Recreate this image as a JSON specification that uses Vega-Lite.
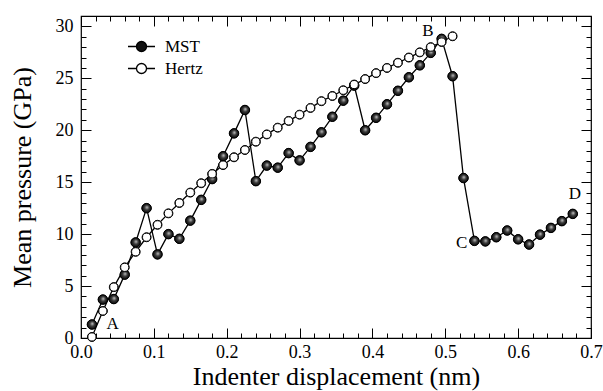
{
  "$schema": "https://vega.github.io/schema/vega-lite/v6.json",
  "width": 510,
  "height": 322,
  "autosize": {"type": "none"},
  "padding": {"left": 81, "top": 16, "right": 12, "bottom": 53},
  "background": "white",
  "config": {
    "view": {"stroke": "black", "strokeWidth": 1.2},
    "font": "Liberation Serif",
    "axis": {
      "domain": false,
      "grid": false,
      "tickColor": "black",
      "tickWidth": 1,
      "labelColor": "black",
      "titleColor": "black",
      "labelFont": "Liberation Serif",
      "titleFont": "Liberation Serif",
      "labelFontSize": 18,
      "titleFontSize": 26,
      "titleFontWeight": "normal",
      "labelFlush": false,
      "labelOverlap": false
    },
    "legend": {
      "labelFont": "Liberation Serif",
      "labelFontSize": 17,
      "labelColor": "black"
    }
  },
  "datasets": {
    "curves": [
      {"series": "MST", "x": 0.015, "y": 1.3},
      {"series": "MST", "x": 0.030, "y": 3.7},
      {"series": "MST", "x": 0.045, "y": 3.75},
      {"series": "MST", "x": 0.060, "y": 6.1},
      {"series": "MST", "x": 0.075, "y": 9.2},
      {"series": "MST", "x": 0.090, "y": 12.5},
      {"series": "MST", "x": 0.105, "y": 8.05},
      {"series": "MST", "x": 0.120, "y": 10.0},
      {"series": "MST", "x": 0.135, "y": 9.55},
      {"series": "MST", "x": 0.150, "y": 11.3},
      {"series": "MST", "x": 0.165, "y": 13.3},
      {"series": "MST", "x": 0.180, "y": 15.3},
      {"series": "MST", "x": 0.195, "y": 17.5},
      {"series": "MST", "x": 0.210, "y": 19.7},
      {"series": "MST", "x": 0.225, "y": 21.95},
      {"series": "MST", "x": 0.240, "y": 15.1},
      {"series": "MST", "x": 0.255, "y": 16.6},
      {"series": "MST", "x": 0.270, "y": 16.4},
      {"series": "MST", "x": 0.285, "y": 17.8},
      {"series": "MST", "x": 0.300, "y": 17.1},
      {"series": "MST", "x": 0.315, "y": 18.4},
      {"series": "MST", "x": 0.330, "y": 19.8},
      {"series": "MST", "x": 0.345, "y": 21.3},
      {"series": "MST", "x": 0.360, "y": 22.85},
      {"series": "MST", "x": 0.375, "y": 24.3},
      {"series": "MST", "x": 0.390, "y": 20.0},
      {"series": "MST", "x": 0.405, "y": 21.2},
      {"series": "MST", "x": 0.420, "y": 22.5},
      {"series": "MST", "x": 0.435, "y": 23.8},
      {"series": "MST", "x": 0.450, "y": 25.1},
      {"series": "MST", "x": 0.465, "y": 26.25},
      {"series": "MST", "x": 0.480, "y": 27.45},
      {"series": "MST", "x": 0.495, "y": 28.8},
      {"series": "MST", "x": 0.510, "y": 25.2},
      {"series": "MST", "x": 0.525, "y": 15.4},
      {"series": "MST", "x": 0.540, "y": 9.35},
      {"series": "MST", "x": 0.555, "y": 9.3},
      {"series": "MST", "x": 0.570, "y": 9.7},
      {"series": "MST", "x": 0.585, "y": 10.35},
      {"series": "MST", "x": 0.600, "y": 9.5},
      {"series": "MST", "x": 0.615, "y": 9.0},
      {"series": "MST", "x": 0.630, "y": 9.95},
      {"series": "MST", "x": 0.645, "y": 10.6},
      {"series": "MST", "x": 0.660, "y": 11.25},
      {"series": "MST", "x": 0.675, "y": 11.95},
      {"series": "Hertz", "x": 0.015, "y": 0.1},
      {"series": "Hertz", "x": 0.030, "y": 2.6},
      {"series": "Hertz", "x": 0.045, "y": 4.9},
      {"series": "Hertz", "x": 0.060, "y": 6.8},
      {"series": "Hertz", "x": 0.075, "y": 8.3},
      {"series": "Hertz", "x": 0.090, "y": 9.7},
      {"series": "Hertz", "x": 0.105, "y": 10.9},
      {"series": "Hertz", "x": 0.120, "y": 12.0},
      {"series": "Hertz", "x": 0.135, "y": 13.0},
      {"series": "Hertz", "x": 0.150, "y": 14.0},
      {"series": "Hertz", "x": 0.165, "y": 14.9},
      {"series": "Hertz", "x": 0.180, "y": 15.8},
      {"series": "Hertz", "x": 0.195, "y": 16.65},
      {"series": "Hertz", "x": 0.210, "y": 17.4},
      {"series": "Hertz", "x": 0.225, "y": 18.1},
      {"series": "Hertz", "x": 0.240, "y": 18.9},
      {"series": "Hertz", "x": 0.255, "y": 19.6},
      {"series": "Hertz", "x": 0.270, "y": 20.25},
      {"series": "Hertz", "x": 0.285, "y": 20.9},
      {"series": "Hertz", "x": 0.300, "y": 21.5},
      {"series": "Hertz", "x": 0.315, "y": 22.15},
      {"series": "Hertz", "x": 0.330, "y": 22.8},
      {"series": "Hertz", "x": 0.345, "y": 23.3},
      {"series": "Hertz", "x": 0.360, "y": 23.85},
      {"series": "Hertz", "x": 0.375, "y": 24.4},
      {"series": "Hertz", "x": 0.390, "y": 24.93},
      {"series": "Hertz", "x": 0.405, "y": 25.5},
      {"series": "Hertz", "x": 0.420, "y": 26.0},
      {"series": "Hertz", "x": 0.435, "y": 26.5},
      {"series": "Hertz", "x": 0.450, "y": 27.0},
      {"series": "Hertz", "x": 0.465, "y": 27.5},
      {"series": "Hertz", "x": 0.480, "y": 28.0},
      {"series": "Hertz", "x": 0.495, "y": 28.5},
      {"series": "Hertz", "x": 0.510, "y": 29.05}
    ],
    "labels": [
      {"label": "A", "x": 0.0435, "y": 1.3},
      {"label": "B", "x": 0.476, "y": 29.6},
      {"label": "C", "x": 0.5225, "y": 9.1},
      {"label": "D", "x": 0.678, "y": 13.9}
    ]
  },
  "resolve": {"axis": {"x": "independent", "y": "independent"}},
  "layer": [
    {
      "data": {"name": "curves"},
      "mark": {"type": "line", "color": "black", "strokeWidth": 1.3},
      "encoding": {
        "x": {
          "field": "x", "type": "quantitative",
          "scale": {"domain": [0, 0.7], "nice": false, "zero": false},
          "axis": {
            "orient": "bottom",
            "title": "Indenter displacement (nm)",
            "values": [0,0.02,0.04,0.06,0.08,0.1,0.12,0.14,0.16,0.18,0.2,0.22,0.24,0.26,0.28,0.3,0.32,0.34,0.36,0.38,0.4,0.42,0.44,0.46,0.48,0.5,0.52,0.54,0.56,0.58,0.6,0.62,0.64,0.66,0.68,0.7],
            "labelExpr": "abs(datum.value*10 - round(datum.value*10)) < 0.001 ? format(datum.value, '.1f') : ''",
            "tickSize": {"condition": {"test": "abs(datum.value*10 - round(datum.value*10)) < 0.001", "value": -10}, "value": -5},
            "labelPadding": 15,
            "titlePadding": -3
          }
        },
        "y": {
          "field": "y", "type": "quantitative",
          "scale": {"domain": [0, 31], "nice": false},
          "axis": {
            "orient": "left",
            "title": "Mean pressure (GPa)",
            "values": [0,1,2,3,4,5,6,7,8,9,10,11,12,13,14,15,16,17,18,19,20,21,22,23,24,25,26,27,28,29,30],
            "labelExpr": "datum.value % 5 === 0 ? format(datum.value, 'd') : ''",
            "tickSize": {"condition": {"test": "datum.value % 5 === 0", "value": -10}, "value": -5},
            "labelPadding": 18,
            "titlePadding": 20
          }
        },
        "detail": {"field": "series"}
      }
    },
    {
      "data": {"name": "curves"},
      "mark": {"type": "point", "filled": true, "stroke": "black", "strokeWidth": 1, "opacity": 1, "size": 80},
      "encoding": {
        "x": {
          "field": "x", "type": "quantitative",
          "axis": {
            "orient": "top",
            "title": null,
            "labels": false,
            "values": [0,0.02,0.04,0.06,0.08,0.1,0.12,0.14,0.16,0.18,0.2,0.22,0.24,0.26,0.28,0.3,0.32,0.34,0.36,0.38,0.4,0.42,0.44,0.46,0.48,0.5,0.52,0.54,0.56,0.58,0.6,0.62,0.64,0.66,0.68,0.7],
            "tickSize": {"condition": {"test": "abs(datum.value*10 - round(datum.value*10)) < 0.001", "value": -10}, "value": -5}
          }
        },
        "y": {
          "field": "y", "type": "quantitative",
          "axis": {
            "orient": "right",
            "title": null,
            "labels": false,
            "values": [0,1,2,3,4,5,6,7,8,9,10,11,12,13,14,15,16,17,18,19,20,21,22,23,24,25,26,27,28,29,30],
            "tickSize": {"condition": {"test": "datum.value % 5 === 0", "value": -10}, "value": -5}
          }
        },
        "fill": {
          "field": "series", "type": "nominal",
          "scale": {"domain": ["MST", "Hertz"], "range": ["#111111", "#ffffff"]},
          "legend": {
            "title": null,
            "orient": "none",
            "legendX": 52,
            "legendY": 22,
            "symbolType": "M-2.7,0H-1M1,0H2.7M1,0A1,1 0 1 1 -1,0A1,1 0 1 1 1,0Z",
            "symbolSize": 100,
            "symbolStrokeColor": "black",
            "symbolStrokeWidth": 1.3,
            "labelFont": "Liberation Serif",
            "labelFontSize": 17,
            "labelColor": "black",
            "labelOffset": 15,
            "rowPadding": 4,
            "padding": 0
          }
        }
      }
    },
    {
      "data": {"name": "curves"},
      "transform": [{"filter": "datum.series === 'MST'"}],
      "mark": {"type": "point", "filled": true, "stroke": "black", "strokeWidth": 1, "opacity": 1, "size": 90,
        "fill": {"gradient": "radial", "x1": 0.55, "y1": 0.4, "r1": 0, "x2": 0.5, "y2": 0.5, "r2": 0.55,
          "stops": [{"offset": 0, "color": "#c8c8c8"}, {"offset": 0.45, "color": "#3a3a3a"}, {"offset": 1, "color": "#000000"}]}},
      "encoding": {
        "x": {"field": "x", "type": "quantitative", "axis": null},
        "y": {"field": "y", "type": "quantitative", "axis": null}
      }
    },
    {
      "data": {"name": "curves"},
      "transform": [{"filter": "datum.series === 'Hertz'"}],
      "mark": {"type": "point", "filled": true, "fill": "white", "stroke": "black", "strokeWidth": 1, "opacity": 1, "size": 66},
      "encoding": {
        "x": {"field": "x", "type": "quantitative", "axis": null},
        "y": {"field": "y", "type": "quantitative", "axis": null}
      }
    },
    {
      "data": {"name": "labels"},
      "mark": {"type": "text", "font": "Liberation Serif", "fontSize": 17, "color": "black", "align": "center", "baseline": "middle"},
      "encoding": {
        "x": {"field": "x", "type": "quantitative", "axis": null},
        "y": {"field": "y", "type": "quantitative", "axis": null},
        "text": {"field": "label"}
      }
    }
  ]
}
